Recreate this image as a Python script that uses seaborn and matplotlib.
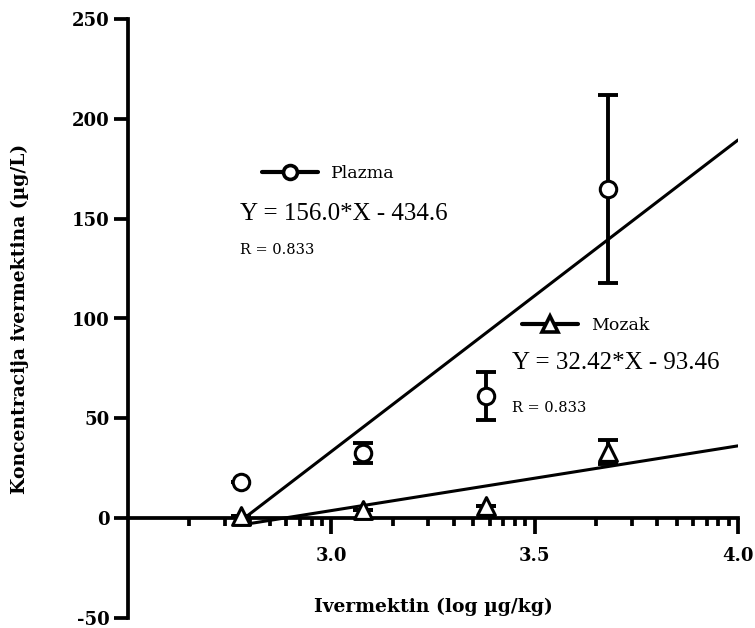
import matplotlib
matplotlib.use("Agg")
import matplotlib.pyplot as plt
import seaborn as sns
import numpy as np
import pandas as pd
from matplotlib.lines import Line2D

# ---- data ----
log_dose = [2.778, 3.079, 3.380, 3.681]
plazma_mean = [18, 32.5, 61, 165]
plazma_err = [0, 5, 12, 47]
mozak_mean = [1, 4, 6, 33]
mozak_err = [0, 0, 0, 6]
plazma_fit = (156.0, -434.6)
mozak_fit = (32.42, -93.46)
fit_x = [2.778, 4.0]
y_ticks = [-50, 0, 50, 100, 150, 200, 250]
x_ticks = [3.0, 3.5, 4.0]
x_tick_labels = ["3.0", "3.5", "4.0"]
series_names = ["Plazma", "Mozak"]
eq_texts = ["Y = 156.0*X - 434.6", "Y = 32.42*X - 93.46"]
r_texts = ["R = 0.833", "R = 0.833"]

sns.set_style("ticks")
plt.rcParams['font.family'] = ['Liberation Serif', 'DejaVu Serif']
plt.rcParams['text.color'] = 'black'
plt.rcParams['axes.labelcolor'] = 'black'
TIMES = ['Liberation Serif']
WIDE = ['DejaVu Serif']

W, H = 755, 628
fig = plt.figure(figsize=(W / 100, H / 100), dpi=100)
ax = fig.add_axes([128 / W, 1 - 618 / H, (738 - 128) / W, (618 - 19) / H])

lw = 2.2

df_p = pd.DataFrame({"x": log_dose, "y": plazma_mean})
df_m = pd.DataFrame({"x": log_dose, "y": mozak_mean})

# fit lines
fx = np.array(fit_x)
df_fp = pd.DataFrame({"x": fx, "y": plazma_fit[0] * fx + plazma_fit[1]})
df_fm = pd.DataFrame({"x": fx, "y": mozak_fit[0] * fx + mozak_fit[1]})
sns.lineplot(data=df_fp, x="x", y="y", ax=ax, color="black", linewidth=2.2, zorder=2)
sns.lineplot(data=df_fm, x="x", y="y", ax=ax, color="black", linewidth=2.2, zorder=2)

# error bars
ax.errorbar(log_dose, plazma_mean, yerr=plazma_err, fmt="none", ecolor="black",
            elinewidth=lw + 0.6, capsize=7, capthick=lw + 0.6, zorder=3)
ax.errorbar(log_dose, mozak_mean, yerr=mozak_err, fmt="none", ecolor="black",
            elinewidth=lw + 0.6, capsize=7, capthick=lw + 0.6, zorder=3)

# markers
sns.scatterplot(data=df_p, x="x", y="y", ax=ax, marker="o", s=140,
                facecolor="white", edgecolor="black", linewidth=lw, zorder=4)
sns.scatterplot(data=df_m, x="x", y="y", ax=ax, marker="^", s=165,
                facecolor="white", edgecolor="black", linewidth=lw, zorder=4)

# axes
ax.set_xlim(2.5, 4.0)
ax.set_ylim(-50, 250)
ax.spines["top"].set_visible(False)
ax.spines["right"].set_visible(False)
ax.spines["bottom"].set_position(("data", 0))
for s in ["left", "bottom"]:
    ax.spines[s].set_linewidth(lw + 0.5)
    ax.spines[s].set_color("black")

ax.set_yticks(y_ticks)
ax.set_yticklabels([str(v) for v in y_ticks])
ax.set_xticks(x_ticks)
ax.set_xticklabels(x_tick_labels)
minor = [b + 0.5 * np.log10(k) for b in [2.5, 3.0, 3.5] for k in range(2, 10)]
ax.set_xticks(minor, minor=True)
ax.tick_params(axis="y", which="major", direction="out", length=10, width=lw + 0.5,
               pad=3, labelsize=13, color="black", labelcolor="black")
ax.tick_params(axis="x", which="major", direction="out", length=11.5, width=lw + 0.5,
               pad=9, labelsize=13, color="black", labelcolor="black")
ax.tick_params(axis="x", which="minor", direction="out", length=6, width=lw + 0.5,
               color="black")
for lab in ax.get_xticklabels() + ax.get_yticklabels():
    lab.set_fontweight("bold")
    lab.set_family(WIDE)

ax.set_xlabel("Ivermektin (log µg/kg)", fontsize=13.5, fontweight="bold",
              family=WIDE, color="black")
ax.xaxis.set_label_coords(0.5, 0.018)
ax.xaxis.label.set_va("center")
ax.set_ylabel("Koncentracija ivermektina (µg/L)", fontsize=13.5, fontweight="bold",
              family=WIDE, color="black")
ax.yaxis.set_label_coords(-0.177, 0.5)
ax.yaxis.label.set_va("center")

# legends
h_p = Line2D([], [], color="black", linewidth=3, marker="o", markersize=10,
             markerfacecolor="white", markeredgewidth=lw + 0.4)
h_m = Line2D([], [], color="black", linewidth=3, marker="^", markersize=11,
             markerfacecolor="white", markeredgewidth=lw + 0.4)
legprops = dict(family=WIDE, size=12.5)
leg1 = ax.legend([h_p], [series_names[0]], loc="center left",
                 bbox_to_anchor=(0.2197, 0.742), frameon=False, prop=legprops,
                 handlelength=3.2, handletextpad=0.8, borderpad=0, borderaxespad=0,
                 labelcolor="black")
ax.add_artist(leg1)
leg2 = ax.legend([h_m], [series_names[1]], loc="center left",
                 bbox_to_anchor=(0.646, 0.488), frameon=False, prop=legprops,
                 handlelength=3.2, handletextpad=0.8, borderpad=0, borderaxespad=0,
                 labelcolor="black")

ax.text(2.775, 152.5, eq_texts[0], fontsize=18, va="center", ha="left",
        family=TIMES, color="black")
ax.text(2.775, 134.5, r_texts[0], fontsize=10.5, va="center", ha="left",
        family=WIDE, color="black")
ax.text(3.445, 77.5, eq_texts[1], fontsize=18, va="center", ha="left",
        family=TIMES, color="black")
ax.text(3.445, 55, r_texts[1], fontsize=10.5, va="center", ha="left",
        family=WIDE, color="black")

fig.savefig("out.png", dpi=100)
